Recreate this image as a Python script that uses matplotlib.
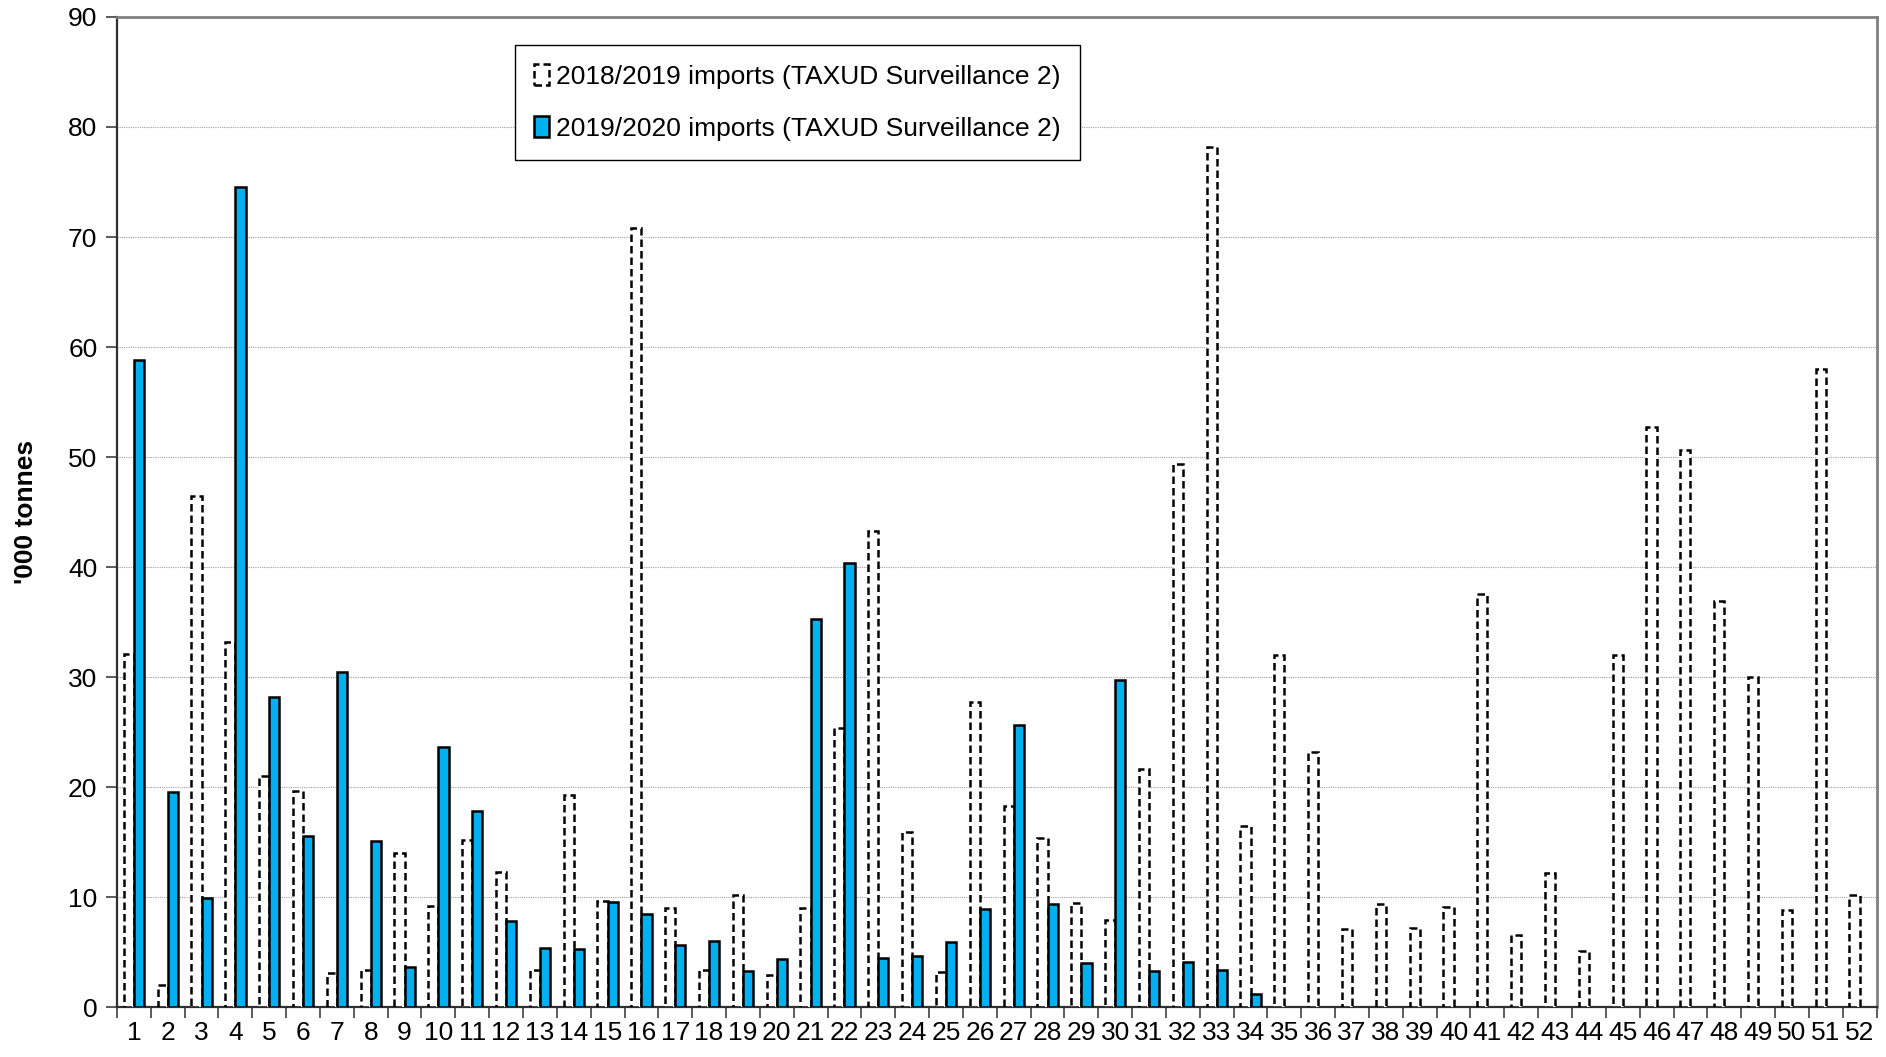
import matplotlib
matplotlib.use("Agg")
import matplotlib.pyplot as plt
import numpy as np

plt.rcParams['font.family'] = ['Liberation Sans', 'DejaVu Sans']

categories = list(range(1, 53))
imports_2018_2019 = [32.1, 2.0, 46.5, 33.2, 21.0, 19.7, 3.1, 3.4, 14.0, 9.2,
                     15.2, 12.3, 3.4, 19.3, 9.7, 70.8, 9.0, 3.4, 10.2, 2.9,
                     9.0, 25.4, 43.3, 15.9, 3.2, 27.7, 18.3, 15.4, 9.5, 7.9,
                     21.7, 49.4, 78.2, 16.5, 32.0, 23.2, 7.1, 9.4, 7.2, 9.1,
                     37.6, 6.6, 12.2, 5.1, 32.0, 52.7, 50.6, 36.9, 30.0, 8.8,
                     58.0, 10.2]
imports_2019_2020 = [58.8, 19.6, 9.9, 74.5, 28.2, 15.6, 30.5, 15.1, 3.7, 23.7,
                     17.8, 7.8, 5.4, 5.3, 9.6, 8.5, 5.7, 6.0, 3.3, 4.4,
                     35.3, 40.4, 4.5, 4.7, 5.9, 8.9, 25.7, 9.4, 4.0, 29.7,
                     3.3, 4.1, 3.4, 1.2] + [0] * 18
label_a = "2018/2019 imports (TAXUD Surveillance 2)"
label_b = "2019/2020 imports (TAXUD Surveillance 2)"

fig = plt.figure(figsize=(18.86, 10.57), dpi=100)
ax = fig.add_axes([0.062, 0.047, 0.933, 0.937])

x = np.array(categories, dtype=float)
w = 0.3
a = np.array(imports_2018_2019)
b = np.array(imports_2019_2020)

ax.bar(x - w / 2, a, width=w, facecolor='white', edgecolor='black',
       linewidth=1.8, linestyle=(0, (3, 1.6)), label=label_a, zorder=3)
mask = b > 0
ax.bar(x[mask] + w / 2, b[mask], width=w, facecolor='#00B0F0', edgecolor='black',
       linewidth=1.8, label=label_b, zorder=3)

ax.set_xlim(0.5, 52.5)
ax.set_ylim(0, 90)
ax.set_yticks(np.arange(0, 91, 10))
ax.yaxis.grid(True, color='#a0a0a0', linestyle=(0, (1, 1)), linewidth=0.8, zorder=0)
ax.set_axisbelow(True)

ax.set_xticks(np.arange(0.5, 53, 1))
ax.set_xticklabels([])
ax.set_xticks(x, minor=True)
ax.set_xticklabels([str(c) for c in categories], minor=True)
ax.tick_params(axis='x', which='major', direction='out', length=8, width=1.2, color='#404040')
ax.tick_params(axis='x', which='minor', length=0, labelsize=19, pad=10)
ax.tick_params(axis='y', direction='out', length=8, width=1.2, color='#404040', labelsize=19, pad=6)

for s in ['top', 'right']:
    ax.spines[s].set_color('#808080')
    ax.spines[s].set_linewidth(2)
for s in ['left', 'bottom']:
    ax.spines[s].set_color('#303030')
    ax.spines[s].set_linewidth(1.6)

ax.set_ylabel("'000 tonnes", fontsize=19, fontweight='bold', labelpad=22)

leg = ax.legend(loc='upper left', bbox_to_anchor=(0.226, 0.972), fontsize=19,
                frameon=True, fancybox=False, edgecolor='black', framealpha=1,
                handlelength=0.55, handleheight=0.8, handletextpad=0.25,
                labelspacing=1.05, borderpad=0.75, borderaxespad=0)
leg.get_frame().set_linewidth(1.0)

fig.savefig("out.png", dpi=100)
